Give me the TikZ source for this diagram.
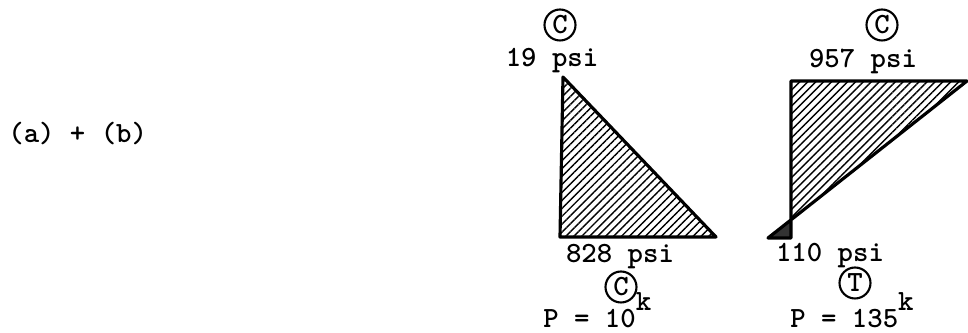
\documentclass[tikz,border=0pt]{standalone}
\usetikzlibrary{patterns.meta}

\begin{document}
\begin{tikzpicture}[
    x=0.02cm, y=-0.02cm,
    % --- Styles ---
    label text/.style={font=\ttfamily\bfseries\fontsize{16.7}{20}\selectfont, inner sep=0pt},
    stress text/.style={label text, anchor=base},
    load text/.style={label text, anchor=base west},
    % Circled letter: C = compression, T = tension
    sense mark/.style={label text, draw, circle, line width=1.2pt, minimum size=0.62cm},
    stress edge/.style={line width=1.8pt, line join=round},
    % Hatched block for compression, dark for tension
    compression fill/.style={pattern={Lines[angle=45, distance=3.2pt, line width=0.8pt]}},
    tension fill/.style={fill=black!80}
]

%================CONFIGURATION================
\def\kraise{10pt}
%=============================================

\useasboundingbox (0,0) rectangle (968,333);

% --- 1. Case label ---
\node[label text, anchor=base west] (cases) at (8,143) {(a) + (b)};

% --- 2. Left stress block ---
\coordinate (Ltop) at (563,77);
\coordinate (Lbl) at (560,237);
\coordinate (Lbr) at (716,237);

\fill[compression fill] (Ltop) -- (Lbl) -- (Lbr) -- cycle;
\draw[stress edge] (Ltop) -- (Lbl) -- (Lbr) -- cycle;

\node[sense mark] (senseTL) at (560,25) {C};
\node[stress text] (topL) at (552,67) {19 psi};
\node[stress text] (botL) at (620,263) {828 psi};
\node[sense mark] (senseBL) at (621,287) {C};
\node[load text] (loadL) at (543,328) {P = 10\raisebox{\kraise}{k}};

% --- 3. Right stress block ---
\coordinate (Rtl) at (791,81);
\coordinate (Rtr) at (967,81);
\coordinate (Rbl) at (791,238);
\coordinate (Rtip) at (768,238);
% Zero stress point on the section face
\coordinate (Rzero) at (intersection of Rtl--Rbl and Rtr--Rtip);

\fill[compression fill] (Rtl) -- (Rtr) -- (Rzero) -- cycle;
\fill[tension fill] (Rzero) -- (Rbl) -- (Rtip) -- cycle;
\draw[stress edge] (Rtl) -- (Rtr) -- (Rtip) -- (Rbl) -- cycle;

\node[sense mark] (senseTR) at (882,25) {C};
\node[stress text] (topR) at (863,68) {957 psi};
\node[stress text] (botR) at (830,262) {110 psi};
\node[sense mark] (senseBR) at (855,283) {T};
\node[load text] (loadR) at (790,328) {P = 135\raisebox{\kraise}{k}};

\end{tikzpicture}
\end{document}
